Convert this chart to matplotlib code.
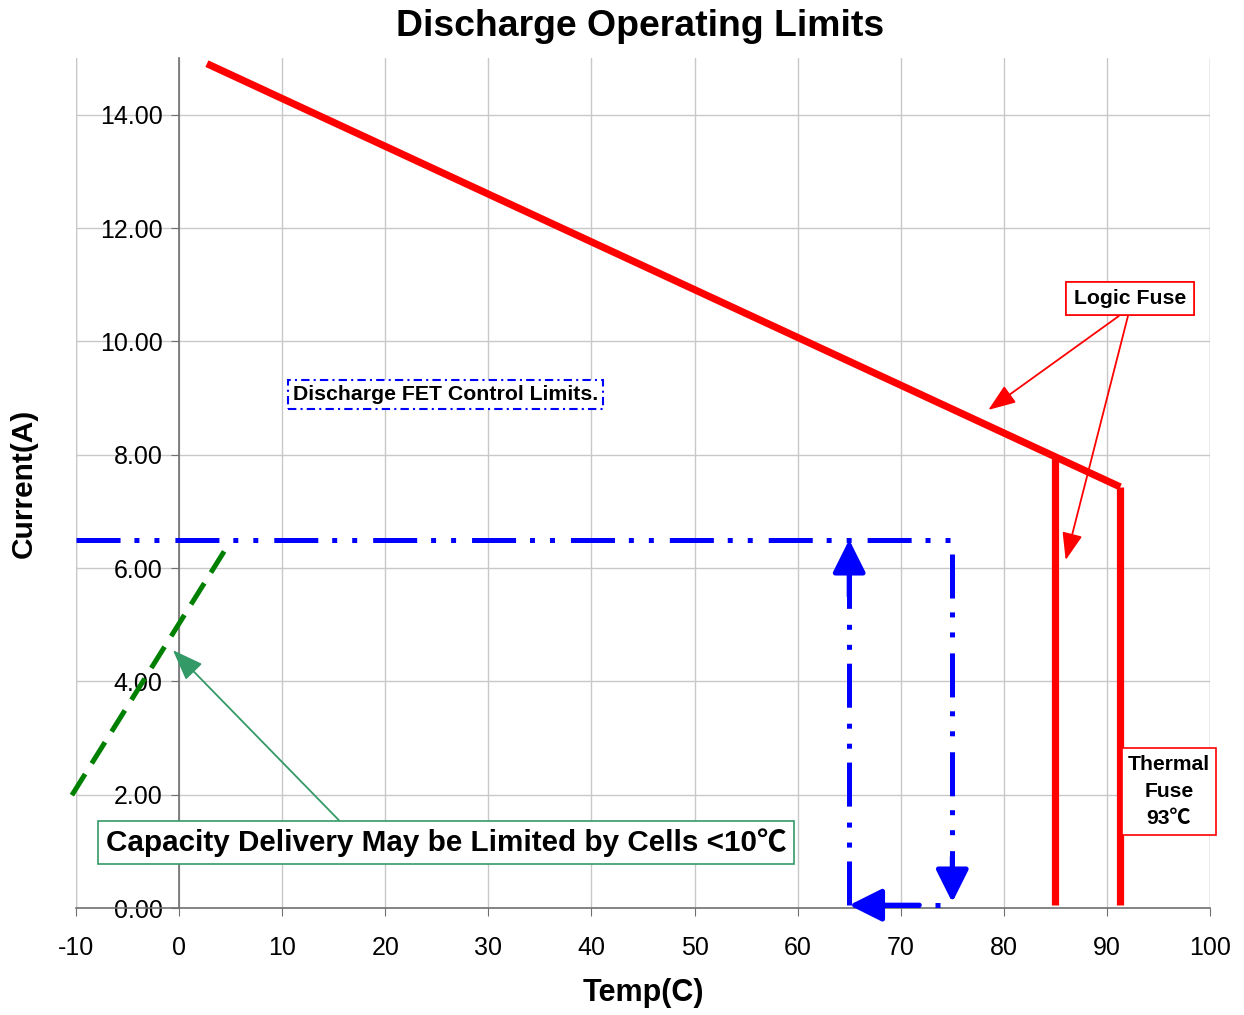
import matplotlib
matplotlib.use("Agg")
import matplotlib.pyplot as plt

plt.rcParams['font.family'] = ['Liberation Sans', 'Noto Sans CJK SC', 'DejaVu Sans']
plt.rcParams['lines.scale_dashes'] = False
plt.rcParams['axes.unicode_minus'] = False

# Data
logic_x = [2.7, 91.3]
logic_y = [14.9, 7.43]
fuse85_x = [85, 85]
fuse85_y = [7.96, 0.05]
fuse91_x = [91.3, 91.3]
fuse91_y = [7.43, 0.05]
fet_x = [-10, 75, 75]
fet_y = [6.5, 6.5, 0.6]
fet_up_x = [65, 65]
fet_up_y = [0.05, 5.9]
fet_bottom_x = [73.8, 67.5]
fet_bottom_y = [0.05, 0.05]
cell_x = [-10.4, 4.6]
cell_y = [1.99, 6.36]
x_ticks = [-10, 0, 10, 20, 30, 40, 50, 60, 70, 80, 90, 100]
y_ticks = [0, 2, 4, 6, 8, 10, 12, 14]

fig = plt.figure(figsize=(12.44, 10.15), dpi=100)
ax = fig.add_axes([76/1244, 107/1015, (1210-76)/1244, (908-58)/1015])
ax.set_xlim(-10, 100)
ax.set_ylim(0, 15)

ax.set_xticks(x_ticks)
ax.set_yticks(y_ticks)
ax.set_yticklabels([f"{v:.2f}" for v in y_ticks])
ax.grid(True, color='#c8c8c8', lw=1)
ax.set_axisbelow(True)
for s in ['top', 'right']:
    ax.spines[s].set_visible(False)
ax.spines['left'].set_position(('data', 0))
ax.spines['bottom'].set_position(('data', 0))
for s in ['left', 'bottom']:
    ax.spines[s].set_color('#707070')
    ax.spines[s].set_linewidth(1.2)
ax.tick_params(axis='both', labelsize=18, colors='#707070', labelcolor='black', length=6)
ax.tick_params(axis='x', pad=14)
ax.tick_params(axis='y', pad=6)
ax.axvline(-10, color='#c8c8c8', lw=1, zorder=0)
ax.axvline(100, color='#c8c8c8', lw=1, zorder=0)

red = '#ff0000'
blue = '#0000ff'
ddot = (0, (31.7, 10, 3.6, 10.8, 3.6, 11.5))

ax.plot(logic_x, logic_y, color=red, lw=5.2, solid_capstyle='butt', zorder=5)
ax.plot(fuse85_x, fuse85_y, color=red, lw=5.2, solid_capstyle='butt', zorder=5)
ax.plot(fuse91_x, fuse91_y, color=red, lw=5.2, solid_capstyle='butt', zorder=5)

ax.plot(fet_x, fet_y, color=blue, lw=3.6, linestyle=ddot, dash_capstyle='butt', zorder=4)
ax.plot(fet_up_x, fet_up_y, color=blue, lw=3.6, linestyle=ddot, dash_capstyle='butt', zorder=4)
ax.plot(fet_bottom_x, fet_bottom_y, color=blue, lw=3.6, linestyle=(0, (3.6, 11, 33, 100)), dash_capstyle='butt', zorder=4)

arrow_kw = dict(arrowstyle='-|>,head_length=1.0,head_width=0.5', color=blue, lw=3.6, shrinkA=0, shrinkB=0, mutation_scale=20)
ax.annotate('', xy=(75, 0.1), xytext=(75, 0.9), arrowprops=arrow_kw, zorder=6)
ax.annotate('', xy=(65, 6.5), xytext=(65, 5.5), arrowprops=arrow_kw, zorder=6)
ax.annotate('', xy=(65, 0.05), xytext=(71.8, 0.05), arrowprops=arrow_kw, zorder=6)

ax.plot(cell_x, cell_y, color='#008000', lw=3.6, linestyle=(0, (18, 9)), dash_capstyle='butt', zorder=4, clip_on=False)

# Annotations
ax.annotate('Discharge FET Control Limits.', xy=(0.5 * (285 + 606), 1015 - 394.5), xycoords='figure pixels',
            ha='center', va='center', fontsize=15.3, fontweight='bold',
            bbox=dict(boxstyle='square,pad=0.25', fc='white', ec=blue, lw=1.5, linestyle=(0, (6, 3, 1.5, 3))), zorder=7)

for tgt in [(78.5, 8.79), (86.0, 6.14)]:
    ax.annotate('Logic Fuse', xy=tgt, xytext=(1130, 1015 - 298.5), textcoords='figure pixels',
                ha='center', va='center', fontsize=15.3, fontweight='bold',
                bbox=dict(boxstyle='square,pad=0.35', fc='white', ec=red, lw=1.2),
                arrowprops=dict(arrowstyle='-|>,head_length=1.2,head_width=0.45', color=red, lw=1.3,
                                relpos=(0.5, 0), shrinkA=0, shrinkB=0, mutation_scale=14), zorder=7)

ax.annotate('Thermal\nFuse\n93\u2103', xy=(1169, 1015 - 791.5), xycoords='figure pixels',
            ha='center', va='center', fontsize=15.2, fontweight='bold', linespacing=1.55,
            bbox=dict(boxstyle='square,pad=0.3', fc='white', ec=red, lw=1.2), zorder=7)

ax.annotate('Capacity Delivery May be Limited by Cells <10\u2103', xy=(-0.6, 4.55),
            xytext=(446, 1015 - 842.5), textcoords='figure pixels',
            ha='center', va='center', fontsize=21.3, fontweight='bold',
            bbox=dict(boxstyle='square,pad=0.25', fc='white', ec='#339966', lw=1.2),
            arrowprops=dict(arrowstyle='-|>,head_length=1.2,head_width=0.45', color='#339966', lw=1.3,
                            relpos=(0.354, 1.0), shrinkA=0, shrinkB=0, mutation_scale=16), zorder=7)

fig.text(643 / 1244, 1 - 993 / 1015, 'Temp(C)', ha='center', va='center', fontsize=22, fontweight='bold')
fig.text(24 / 1244, 1 - 483 / 1015, 'Current(A)', ha='center', va='center', fontsize=21.5,
         fontweight='bold', rotation=90)
fig.text(640 / 1244, 1 - 26 / 1015, 'Discharge Operating Limits', ha='center', va='center',
         fontsize=26.9, fontweight='bold')

fig.savefig('out.png', dpi=100)
